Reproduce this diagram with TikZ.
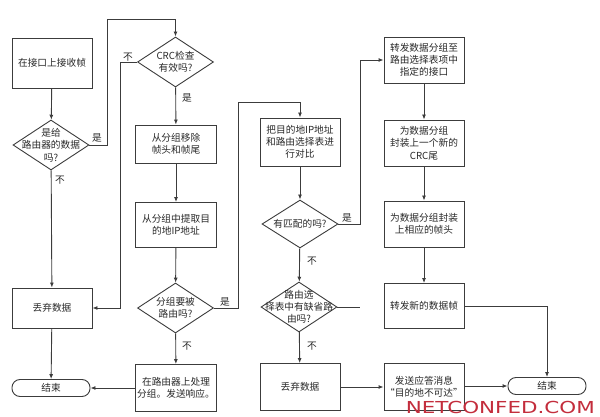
\documentclass[tikz,border=0pt]{standalone}
\usepackage{fontspec}
\newfontfamily\cjk{Noto Sans CJK SC}
\newfontfamily\wmfont{DejaVu Sans}
\usetikzlibrary{shapes.geometric,arrows.meta}
\definecolor{lc}{RGB}{60,60,60}
\definecolor{tc}{RGB}{40,40,40}
\definecolor{wm}{RGB}{195,45,60}
\tikzset{
  txt/.style={font=\cjk\fontsize{9.7}{12.3}\selectfont, text=tc},
  box/.style={txt, draw=lc, line width=0.9pt, minimum width=80pt, inner sep=0pt, align=center},
  dia/.style={draw=lc, line width=0.9pt, diamond, minimum width=76pt, minimum height=50pt, inner sep=0pt},
  dtext/.style={txt, align=center, inner sep=0pt},
  term/.style={txt, draw=lc, line width=0.9pt, rounded corners=8pt, minimum width=78pt, minimum height=17pt, inner sep=0pt},
  arr/.style={draw=lc, line width=0.9pt, -{Latex[length=5pt,width=4pt]}},
  ln/.style={draw=lc, line width=0.9pt},
  lbl/.style={txt, inner sep=0pt}
}
\begin{document}
\begin{tikzpicture}[x=1pt,y=-1pt]
\useasboundingbox (0,0) rectangle (600,417);
% column 1
\node[box, minimum height=50pt] (b1) at (52,63) {在接口上接收帧};
\node[dia] (d1) at (51,145) {};
\node[dtext] (d1t) at (d1) {是给\\路由器的数据\\吗?};
\node[box, minimum height=40pt] (dis1) at (52,308) {丢弃数据};
\node[term] (e1) at (51,388) {结束};
% column 2
\node[dia] (d2) at (175.5,62) {};
\node[dtext] (d2t) at (d2) {CRC检查\\有效吗?};
\node[box, minimum height=38pt, minimum width=81pt] (b2) at (176,144) {从分组移除\\帧头和帧尾};
\node[box, minimum height=45pt, minimum width=81pt] (b3) at (176,225) {从分组中提取目\\的地IP地址};
\node[dia] (d3) at (175.5,308) {};
\node[dtext] (d3t) at (d3) {分组要被\\路由吗?};
\node[box, minimum height=47pt, minimum width=81pt] (b4) at (176,388) {在路由器上处理\\分组。发送响应。};
% column 3
\node[box, minimum height=48pt] (b5) at (300,142) {把目的地IP地址\\和路由选择表进\\行对比};
\node[dia, minimum height=48pt] (d4) at (300,224) {};
\node[dtext] (d4t) at (d4) {有匹配的吗?};
\node[dia] (d5) at (299,307) {};
\node[dtext] (d5t) at (d5) {路由选\\择表中有缺省路\\由吗?};
\node[box, minimum height=47pt] (dis2) at (300,387) {丢弃数据};
% column 4
\node[box, minimum height=46pt] (b6) at (424,60) {转发数据分组至\\路由选择表项中\\指定的接口};
\node[box, minimum height=46pt] (b7) at (424,143) {为数据分组\\封装上一个新的\\CRC尾};
\node[box, minimum height=46pt] (b8) at (424,224) {为数据分组封装\\上相应的帧头};
\node[box, minimum height=45pt] (b9) at (424,306) {转发新的数据帧};
\node[box, minimum height=47pt] (b10) at (424,387) {发送应答消息\\“目的地不可达”};
\node[term] (e2) at (547,386) {结束};
% connectors
\draw[arr] (b1) -- (d1);
\draw[arr] (d1.east) -- ++(18,0) |- ([yshift=17pt]d2.north) -- (d2.north);
\draw[arr] (d2.west) -- ++(-17,0) |- (dis1.east);
\draw[arr] (d1) -- (dis1);
\draw[arr] (dis1) -- (e1);
\draw[arr] (d2) -- (b2);
\draw[arr] (b2) -- (b3);
\draw[arr] (b3) -- (d3);
\draw[arr] (d3) -- (b4);
\draw[arr] (b4.west) -- (e1.east);
\draw[arr] (d3.east) -- ++(24,0) |- ([yshift=15pt]b5.north) -- (b5.north);
\draw[arr] (b5) -- (d4);
\draw[arr] (d4) -- (d5);
\draw[arr] (d5) -- (dis2);
\draw[arr] (d4.east) -- ++(22,0) coordinate (j) |- (b6.west);
\draw[ln] (d5.east) -- (d5.east -| j);
\draw[arr] (b6) -- (b7);
\draw[arr] (b7) -- (b8);
\draw[arr] (b8) -- (b9);
\draw[arr] (b9.east) -| (e2.north);
\draw[arr] (dis2.east) -- (b10.west);
\draw[arr] (b10.east |- e2.west) -- (e2.west);
% labels
\node[lbl] (l1) at (97,138) {是};
\node[lbl] (l2) at (60,180) {不};
\node[lbl] (l3) at (128,57) {不};
\node[lbl] (l4) at (187,98) {是};
\node[lbl] (l5) at (187,346) {不};
\node[lbl] (l6) at (225,302) {是};
\node[lbl] (l7) at (312,261) {不};
\node[lbl] (l8) at (312,346) {不};
\node[lbl] (l9) at (347,218) {是};
% watermark
\node[inner sep=0pt, text=wm, anchor=base east] (wmk) at (595,413) {\scalebox{1.3}[1]{\wmfont\fontsize{16.5}{17}\selectfont NETCONFED.COM}};
\end{tikzpicture}
\end{document}
